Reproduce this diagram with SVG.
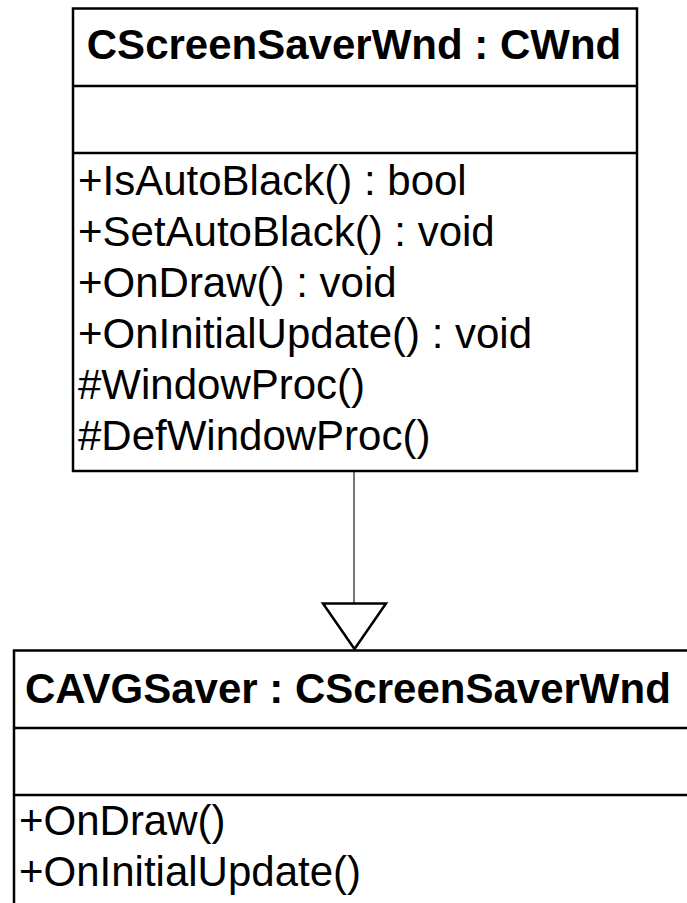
<svg xmlns="http://www.w3.org/2000/svg" width="687" height="903" viewBox="0 0 687 903">
<style>
.box{fill:#fff;stroke:#000;stroke-width:2.5}
.div{stroke:#000;stroke-width:2.5}
.hdr{font-family:"Liberation Sans",Arial,sans-serif;font-weight:bold;font-size:42px;fill:#000}
.op{font-family:"Liberation Sans",Arial,sans-serif;font-size:42px;fill:#000}
.conn{stroke:#555;stroke-width:1.6;fill:none}
.tri{fill:#fff;stroke:#000;stroke-width:2.5;stroke-linejoin:miter}
</style>
<rect width="687" height="903" fill="#fff"/>
<g id="connectors">
<line class="conn" x1="354" y1="471" x2="354" y2="604"/>
<polygon class="tri" points="323,603.5 386,603.5 354.5,649"/>
</g>
<g id="CScreenSaverWnd">
<rect class="box" x="73" y="8.5" width="564" height="462.5"/>
<line class="div" x1="73" y1="86" x2="637" y2="86"/>
<line class="div" x1="73" y1="153" x2="637" y2="153"/>
<text class="hdr" x="354" y="59" text-anchor="middle">CScreenSaverWnd : CWnd</text>
<text class="op" x="78" y="195">+IsAutoBlack() : bool</text>
<text class="op" x="78" y="246">+SetAutoBlack() : void</text>
<text class="op" x="78" y="297">+OnDraw() : void</text>
<text class="op" x="78" y="348">+OnInitialUpdate() : void</text>
<text class="op" x="78" y="399">#WindowProc()</text>
<text class="op" x="78" y="450">#DefWindowProc()</text>
</g>
<g id="CAVGSaver">
<rect class="box" x="14" y="650.5" width="700" height="280"/>
<line class="div" x1="14" y1="728" x2="700" y2="728"/>
<line class="div" x1="14" y1="795" x2="700" y2="795"/>
<text class="hdr" x="25" y="703">CAVGSaver : CScreenSaverWnd</text>
<text class="op" x="19" y="835">+OnDraw()</text>
<text class="op" x="19" y="886">+OnInitialUpdate()</text>
</g>
</svg>
